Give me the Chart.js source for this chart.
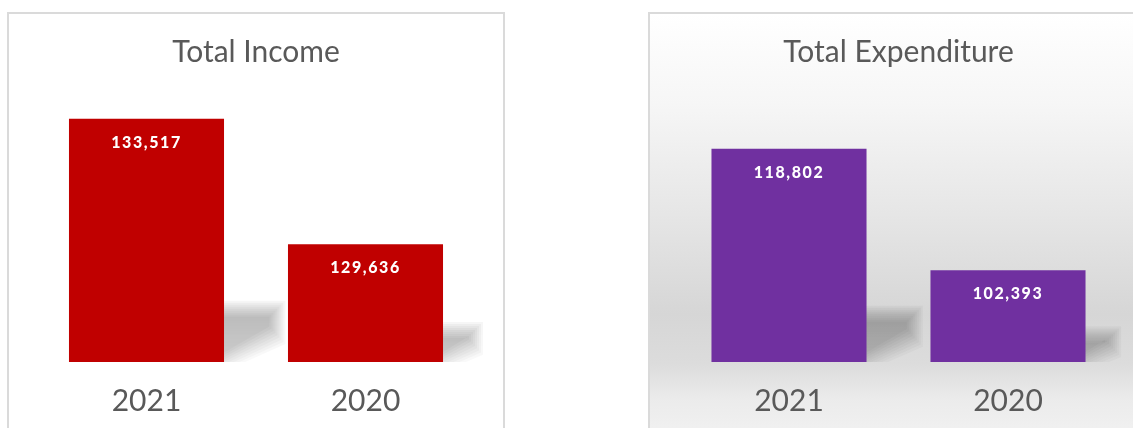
<!DOCTYPE html>
<html>
<head>
<meta charset="utf-8">
<script src="https://cdn.jsdelivr.net/npm/chart.js@4"></script>
<style>
  html, body { margin: 0; padding: 0; background: #fff; overflow: hidden; }
  body { width: 1133px; height: 428px; position: relative; }
  .panel {
    position: absolute; top: 12px; height: 430px;
    box-sizing: border-box; border: 2px solid #dadada;
  }
  #p1 { left: 7px; width: 498px; background: #fff; }
  #p2 {
    left: 648px; width: 500px;
    background: linear-gradient(to bottom, #ffffff 0px, #f6f6f6 90px, #e6e6e6 200px,
      #d6d6d6 300px, #dcdcdc 350px, #ebebeb 385px, #f3f3f3 430px);
  }
  .panel canvas { display: block; }
</style>
</head>
<body>
<div class="panel" id="p1"><canvas id="incomeChart" width="494" height="426"></canvas></div>
<div class="panel" id="p2"><canvas id="expChart" width="496" height="426"></canvas></div>

<script>
// data
const years = ["2021", "2020"];
const incomeValues = [133517, 129636];
const expenditureValues = [118802, 102393];
const incomeAxis = [126000, 134000];
const expenditureAxis = [90000, 125000];

const textGrey = "#595959";
const fontFam = "Lato, 'Open Sans', sans-serif";

// soft shadow band to the right of each bar, stacked translucent layers fake the blur
const barShadow = {
  id: "barShadow",
  beforeDatasetsDraw(chart) {
    const ctx = chart.ctx;
    // bars start below the axis min, so use the bottom of the plot as the floor
    const floor = chart.chartArea.bottom;
    chart.getDatasetMeta(0).data.forEach(bar => {
      const h = floor - bar.y;
      const right = bar.x + bar.width / 2;
      const T = h * 0.17 + 12;   // shadow height at the bar
      const L = h * 0.17 + 12;   // reach to the right
      ctx.save();
      ctx.beginPath();
      ctx.rect(right - 20, floor - T - 20, L + 40, T + 20);
      ctx.clip();
      for (let e = 8; e >= -8; e -= 2) {
        const g = ctx.createLinearGradient(0, floor - T, 0, floor);
        g.addColorStop(0, "rgba(0,0,0,0.036)");
        g.addColorStop(1, "rgba(0,0,0,0.022)");
        ctx.fillStyle = g;
        ctx.beginPath();
        ctx.moveTo(right - 10, floor - T - e);
        ctx.lineTo(right + L + e, floor - T - e);
        ctx.lineTo(right + L + e, floor - 0.5 * L + e * 1.1);
        ctx.lineTo(right - 10, floor + 5 + e * 1.1);
        ctx.closePath();
        ctx.fill();
      }
      ctx.restore();
    });
  }
};

// white value labels inside the top of each bar
const valueLabels = {
  id: "valueLabels",
  afterDatasetsDraw(chart) {
    const ctx = chart.ctx;
    const ds = chart.data.datasets[0];
    chart.getDatasetMeta(0).data.forEach((bar, i) => {
      ctx.save();
      ctx.font = "900 16px " + fontFam;
      ctx.letterSpacing = "1.6px";
      ctx.fillStyle = "#ffffff";
      ctx.textAlign = "center";
      ctx.textBaseline = "middle";
      ctx.fillText(ds.data[i].toLocaleString("en-US"), bar.x, bar.y + 24);
      ctx.restore();
    });
  }
};

function makeChart(id, title, values, range, color, padLeft, padRight) {
  return new Chart(document.getElementById(id), {
    type: "bar",
    data: {
      labels: years,
      datasets: [{
        data: values,
        backgroundColor: color,
        barPercentage: 0.708,
        categoryPercentage: 1.0
      }]
    },
    options: {
      responsive: false,
      animation: false,
      events: [],
      layout: { padding: { left: padLeft, right: padRight, top: 0, bottom: 0 } },
      plugins: {
        legend: { display: false },
        tooltip: { enabled: false },
        title: {
          display: true,
          text: title,
          color: textGrey,
          font: { family: fontFam, size: 30, weight: "normal" },
          padding: { top: 20, bottom: 33 }
        }
      },
      scales: {
        x: {
          grid: { display: false, drawTicks: false },
          border: { display: false },
          ticks: {
            color: textGrey,
            padding: 21,
            font: { family: fontFam, size: 30 }
          }
        },
        y: {
          display: false,
          min: range[0],
          max: range[1]
        }
      }
    },
    plugins: [barShadow, valueLabels]
  });
}

makeChart("incomeChart", "Total Income", incomeValues, incomeAxis, "#C00000", 28, 28);
makeChart("expChart", "Total Expenditure", expenditureValues, expenditureAxis, "#7030A0", 29.5, 28.5);
</script>
</body>
</html>
